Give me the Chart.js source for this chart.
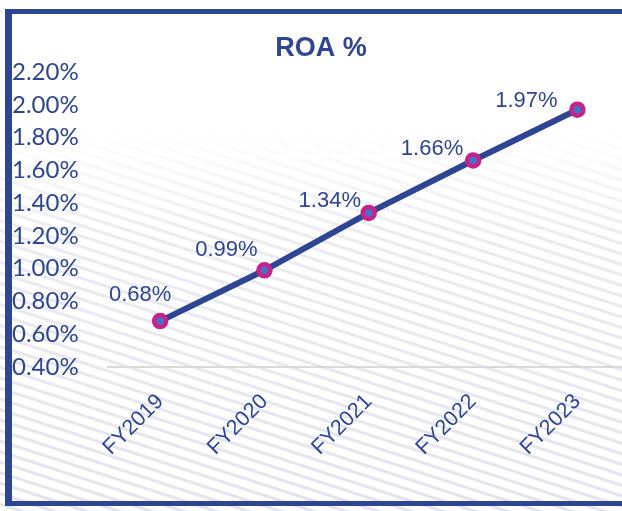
<!DOCTYPE html>
<html>
<head>
<meta charset="utf-8">
<script src="https://cdn.jsdelivr.net/npm/chart.js@4.4.1/dist/chart.umd.min.js"></script>
<style>
    html, body { margin: 0; padding: 0; width: 622px; height: 511px; overflow: hidden; background: #fff; }
    .waves {
        position: absolute; left: 0; top: 0; width: 640px; height: 511px;
        background: repeating-linear-gradient(198deg, #ffffff 0 5px, #e2e3ec 6.5px 8px, #ffffff 9.5px 10px);
        -webkit-mask-image: linear-gradient(to bottom, transparent 25%, rgba(0,0,0,0.7) 45%, black 100%);
        mask-image: linear-gradient(to bottom, transparent 25%, rgba(0,0,0,0.7) 45%, black 100%);
    }
    .frame {
        position: absolute; left: 5px; top: 9px; width: 700px; height: 487px;
        border-left: 7px solid #2e4593; border-top: 5px solid #2e4593; border-bottom: 5px solid #2e4593;
    }
    .wrap { position: absolute; left: 0; top: 0; width: 640px; height: 511px; }
</style>
</head>
<body>
<div class="waves"></div>
<div class="frame"></div>
<div class="wrap"><canvas id="roaChart" width="640" height="511"></canvas></div>
<script>
const years = ["FY2019", "FY2020", "FY2021", "FY2022", "FY2023"];
const roa = [0.68, 0.99, 1.34, 1.66, 1.97];
const yTicks = [0.40, 0.60, 0.80, 1.00, 1.20, 1.40, 1.60, 1.80, 2.00, 2.20];

const navy = "#2e4593";
const magenta = "#c8218b";

// label offsets from each point (Excel placed them by hand)
const labelShift = [[-20, -26], [-38, -20], [-39, -12], [-41, -12], [-51, -9]];

const pointLabels = {
    id: "pointLabels",
    afterDatasetsDraw(chart) {
        const ctx = chart.ctx;
        const meta = chart.getDatasetMeta(0);
        ctx.save();
        ctx.font = "22px 'Liberation Sans', Arial, sans-serif";
        ctx.fillStyle = navy;
        ctx.textAlign = "center";
        ctx.textBaseline = "middle";
        meta.data.forEach((pt, i) => {
            const s = labelShift[i];
            ctx.fillText(roa[i].toFixed(2) + "%", pt.x + s[0], pt.y + s[1]);
        });
        ctx.restore();
    },
};

const ctx = document.getElementById("roaChart").getContext("2d");
new Chart(ctx, {
    type: "line",
    data: {
        labels: years,
        datasets: [
            {
                data: roa,
                borderColor: navy,
                borderWidth: 6,
                pointRadius: 6,
                pointBorderWidth: 4.5,
                pointBackgroundColor: "#4472c4",
                pointBorderColor: magenta,
                tension: 0,
            },
        ],
    },
    plugins: [pointLabels],
    options: {
        responsive: false,
        animation: false,
        devicePixelRatio: 1,
        layout: { padding: { left: 12, right: 10, top: 0, bottom: 0 } },
        plugins: {
            legend: { display: false },
            tooltip: { enabled: false },
            title: {
                display: true,
                text: "ROA %",
                color: navy,
                font: { family: "'Liberation Sans', Arial, sans-serif", size: 27, weight: "bold" },
                padding: { top: 32, bottom: 7.6 },
            },
        },
        scales: {
            x: {
                offset: true,
                grid: { display: false },
                border: { display: true, color: "#d9d9d9", width: 2 },
                ticks: {
                    color: navy,
                    minRotation: 45,
                    maxRotation: 45,
                    padding: 14,
                    font: { family: "'Liberation Sans', Arial, sans-serif", size: 21.5 },
                },
                afterFit: (scale) => { scale.height = 144; },
            },
            y: {
                min: yTicks[0],
                max: yTicks[yTicks.length - 1],
                grid: { display: false },
                border: { display: false },
                afterBuildTicks: (scale) => { scale.ticks = yTicks.map((v) => ({ value: v })); },
                ticks: {
                    color: navy,
                    crossAlign: "far",
                    padding: 0,
                    font: { family: "Lato, 'Open Sans', sans-serif", size: 24 },
                    callback: (v) => v.toFixed(2) + "%",
                },
                afterFit: (scale) => { scale.width = 96; },
            },
        },
    },
});
</script>
</body>
</html>
